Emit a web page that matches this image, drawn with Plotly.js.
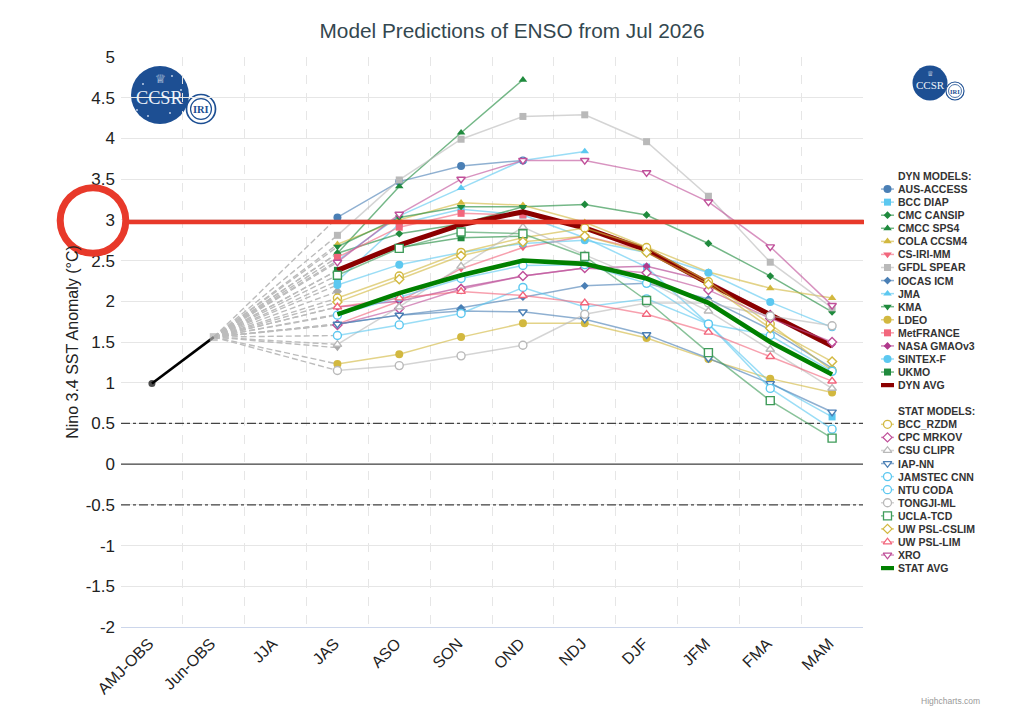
<!DOCTYPE html>
<html><head><meta charset="utf-8">
<script src="https://cdn.plot.ly/plotly-3.0.1.min.js"></script>
<style>html,body{margin:0;padding:0;background:#fff}#c{width:1024px;height:720px}</style></head>
<body><div id="c"></div>
<script>
const categories=["AMJ-OBS","Jun-OBS","JJA","JAS","ASO","SON","OND","NDJ","DJF","JFM","FMA","MAM"];
const yTicks=[-2,-1.5,-1,-0.5,0,0.5,1,1.5,2,2.5,3,3.5,4,4.5,5];
const yLabels=["-2","-1.5","-1","-0.5","0","0.5","1","1.5","2","2.5","3","3.5","4","4.5","5"];
const obsValues=[0.99,1.56];
// forecast values, JAS..MAM
const ausAccess=[3.03,3.47,3.66,3.73];
const bccDiap=[2.25,2.95,3.13,3.06,2.78,2.42,1.72,1.0,0.58];
const cmcCansip=[2.59,2.83,2.95,3.16,3.19,3.06,2.71,2.31,1.87];
const cmccSps4=[2.59,3.41,4.07,4.72];
const colaCcsm4=[2.7,3.0,3.21,3.18,2.97,2.67,2.36,2.16,2.04];
const csIriMm=[1.72,2.0,2.4,2.66,2.8,2.62];
const gfdlSpear=[2.81,3.49,3.99,4.27,4.29,3.96,3.29,2.48,1.92];
const iocasIcm=[1.72,1.83,1.92,2.05,2.19,2.22,2.03,1.65,1.18];
const jma=[2.5,3.05,3.39,3.73,3.84];
const kma=[2.67,3.03,3.16,3.16];
const ldeo=[1.23,1.35,1.56,1.73,1.73,1.55,1.29,1.05,0.88];
const metFrance=[2.54,2.91,3.08,3.06];
const nasaGmao=[1.93,2.0,2.17,2.31,2.41,2.43,2.25,1.85,1.47];
const sintexF=[2.2,2.45,2.6,2.71,2.75,2.6,2.35,1.99,1.68];
const ukmo=[2.38,2.66,2.78,2.8];
const dynAvg=[2.38,2.69,2.94,3.1,2.9,2.63,2.22,1.83,1.45];
const bccRzdm=[2.04,2.31,2.6,2.78,2.9,2.66,2.24,1.72,1.15];
const cpcMrkov=[1.71,1.91,2.15,2.31,2.41,2.35,2.14,1.79,1.5];
const csuClipr=[1.47,1.93,2.43,2.91,2.57,2.25,1.88,1.41,0.93];
const iapNn=[1.72,1.83,1.88,1.87,1.78,1.59,1.3,0.99,0.64];
const jamstecCnn=[1.58,1.71,1.85,2.17,1.93,2.03,1.72,0.93,0.43];
const ntuCoda=[1.83,2.05,2.28,2.44,2.45,2.22,1.72,1.58,1.14];
const tongjiMl=[1.15,1.21,1.33,1.46,1.84,1.98,1.98,1.82,1.7];
const uclaTcd=[2.32,2.65,2.85,2.83,2.55,2.01,1.37,0.78,0.32];
const uwCslim=[1.99,2.27,2.56,2.73,2.8,2.6,2.21,1.67,1.26];
const uwLim=[1.93,2.04,2.12,2.07,1.98,1.84,1.62,1.32,1.02];
const xro=[2.48,3.07,3.5,3.73,3.73,3.58,3.22,2.67,1.95];
const statAvg=[1.84,2.1,2.32,2.5,2.46,2.28,1.98,1.5,1.1];
const extraJas=[2.12,1.43];

const BLUE='#4a7fb5',CY='#5cc8f0',GR='#1f8a3d',GD='#d2b83f',PK='#f2667c',GY='#b9b9b9',MG='#b0398c',MG2='#c0509a';
const dynModels=[
["AUS-ACCESS",ausAccess,BLUE,'circle'],["BCC DIAP",bccDiap,CY,'square'],["CMC CANSIP",cmcCansip,GR,'diamond'],
["CMCC SPS4",cmccSps4,GR,'triangle-up'],["COLA CCSM4",colaCcsm4,GD,'triangle-up'],["CS-IRI-MM",csIriMm,PK,'triangle-down'],
["GFDL SPEAR",gfdlSpear,GY,'square'],["IOCAS ICM",iocasIcm,BLUE,'diamond'],["JMA",jma,CY,'triangle-up'],
["KMA",kma,GR,'triangle-down'],["LDEO",ldeo,GD,'circle'],["MetFRANCE",metFrance,PK,'square'],
["NASA GMAOv3",nasaGmao,MG,'diamond'],["SINTEX-F",sintexF,CY,'circle'],["UKMO",ukmo,GR,'square']];
const statModels=[
["BCC_RZDM",bccRzdm,GD,'circle'],["CPC MRKOV",cpcMrkov,MG2,'diamond'],["CSU CLIPR",csuClipr,GY,'triangle-up'],
["IAP-NN",iapNn,BLUE,'triangle-down'],["JAMSTEC CNN",jamstecCnn,CY,'circle'],["NTU CODA",ntuCoda,CY,'circle'],
["TONGJI-ML",tongjiMl,GY,'circle'],["UCLA-TCD",uclaTcd,'#3f9c5a','square'],["UW PSL-CSLIM",uwCslim,GD,'diamond'],
["UW PSL-LIM",uwLim,PK,'triangle-up'],["XRO",xro,MG2,'triangle-down']];

const W=1024,H=720;
const fx=p=>p/W, fy=p=>1-p/H;
function hexA(h,a){const n=parseInt(h.slice(1),16);return `rgba(${n>>16},${(n>>8)&255},${n&255},${a})`;}
const xs=v=>v.map((_,i)=>i+3);
function mSize(s,filled){return s==='diamond'?(filled?6:7):(s==='triangle-up'||s==='triangle-down'?7.5:(s==='square'?(filled?7:8):8));}
const traces=[];
// reference lines
[[0.5,'dashdot',1.2,'#444'],[-0.5,'dashdot',1.2,'#444'],[0,'solid',1.4,'#444']].forEach(r=>{
 traces.push({x:[-0.5,11.5],y:[r[0],r[0]],mode:'lines',line:{color:r[3],width:r[2],dash:r[1]},showlegend:false,hoverinfo:'skip'});
});
// dashed connectors from last observed month
const allModels=dynModels.concat(statModels);
const ends=allModels.map(m=>m[1][0]).concat([dynAvg[0],statAvg[0]],extraJas);
ends.forEach(e=>traces.push({x:[1,3],y:[obsValues[1],e],mode:'lines',line:{color:'#bcbcbc',width:1.4,dash:'6px,3px'},showlegend:false,hoverinfo:'skip'}));
extraJas.forEach((e,i)=>traces.push({x:[3],y:[e],mode:'markers',marker:{color:'#aaa',size:7,symbol:i?'triangle-down':'diamond',line:{width:0}},hoverinfo:'skip'}));
// observed
traces.push({x:[0,1],y:obsValues,mode:'lines+markers',line:{color:'#000',width:2.6},marker:{color:['#000','#b0b0b0'],size:[7,8],symbol:['circle','square'],line:{width:0}},hoverinfo:'skip'});

function modelTrace(m,filled){
 return {x:xs(m[1]),y:m[1],mode:'lines+markers',line:{color:hexA(m[2],0.62),width:1.5},
  marker:{symbol:m[3],size:mSize(m[3],filled),color:filled?m[2]:'#fff',line:{color:m[2],width:filled?0:1.4}},hoverinfo:'skip'};
}
dynModels.forEach(m=>traces.push(modelTrace(m,true)));
traces.push({x:xs(dynAvg),y:dynAvg,mode:'lines',line:{color:'#8b0000',width:5},hoverinfo:'skip'});
statModels.forEach(m=>traces.push(modelTrace(m,false)));
traces.push({x:xs(statAvg),y:statAvg,mode:'lines',line:{color:'#008000',width:4.6},hoverinfo:'skip'});

// legend drawn on a hidden overlay axis pair, one row per entry
const annotations=[];
function legendText(row,t){annotations.push({xref:'x2',yref:'y2',x:2,y:row,text:t,showarrow:false,xanchor:'left',yanchor:'middle',xshift:2,
  font:{family:'Liberation Sans, Arial, sans-serif',size:10.5,color:'#333',weight:700}});}
function legendSample(row,m,filled){
 traces.push({xaxis:'x2',yaxis:'y2',x:[0,1,2],y:[row,row,row],mode:'lines+markers',line:{color:hexA(m[2],0.62),width:1.5},
  marker:{symbol:m[3],size:mSize(m[3],filled),color:filled?m[2]:'#fff',opacity:[0,1,0],line:{color:m[2],width:filled?0:1.3}},hoverinfo:'skip'});
 legendText(row,m[0]);
}
let row=0; legendText(row++,"DYN MODELS:");
dynModels.forEach(m=>legendSample(row++,m,true));
traces.push({xaxis:'x2',yaxis:'y2',x:[0,2],y:[row,row],mode:'lines',line:{color:'#8b0000',width:4.2},hoverinfo:'skip'});legendText(row++,"DYN AVG");
row++; legendText(row++,"STAT MODELS:");
statModels.forEach(m=>legendSample(row++,m,false));
traces.push({xaxis:'x2',yaxis:'y2',x:[0,2],y:[row,row],mode:'lines',line:{color:'#008000',width:4.2},hoverinfo:'skip'});legendText(row++,"STAT AVG");

// page furniture: logos and the red highlight
const shapes=[];
function circ(cx,cy,r,fill,lc,lw,layer){shapes.push({type:'circle',xref:'paper',yref:'paper',x0:fx(cx-r),x1:fx(cx+r),y0:fy(cy+r),y1:fy(cy-r),
  fillcolor:fill,line:{color:lc||'rgba(0,0,0,0)',width:lw||0},layer:layer||'below'});}
function note(x,y,t,size,color,family,weight){annotations.push({xref:'paper',yref:'paper',x:fx(x),y:fy(y),text:t,showarrow:false,xanchor:'center',yanchor:'middle',
  font:{family:family||'Liberation Serif, serif',size:size,color:color,weight:weight||400}});}
const LB='#1d4f93';
function logo(cx,cy,r,ix,iy,ir,k){
 circ(cx,cy,r,LB);
 circ(ix,iy,ir,'#fff',LB,1.4*k+0.3);
 circ(ix,iy,ir*0.72,'#fff',LB,1*k+0.2);
 note(cx,cy-r*0.54,'♕',r*0.42,'#e6edf7','DejaVu Sans');
 note(cx,cy+r*0.12,'CCSR',r*0.63,'#eef3fa');
 note(ix,iy+0.3,'IRI',ir*0.72,LB,null,700);
}
logo(160,95,29,201,109,14.5,1);
logo(930,83,17.5,955,91,9,0.6);
[[143,84],[172,76],[148,116],[170,113],[181,90],[137,110]].forEach(s=>circ(s[0],s[1],0.9,'#cfdcf0',null,0));
shapes.push({type:'line',xref:'paper',yref:'paper',x0:fx(128),x1:fx(864),y0:fy(222),y1:fy(222),line:{color:'#e8392a',width:4.6},layer:'above'});
circ(93,220.5,32.8,'rgba(0,0,0,0)','#e8392a',7,'above');

annotations.push({xref:'paper',yref:'paper',x:fx(982),y:fy(701),text:'Highcharts.com',showarrow:false,xanchor:'right',yanchor:'middle',font:{family:'Liberation Sans, Arial, sans-serif',size:8.5,color:'#999'}});

const layout={
 width:W,height:H,margin:{l:0,r:0,t:0,b:0},paper_bgcolor:'#fff',plot_bgcolor:'rgba(0,0,0,0)',showlegend:false,hovermode:false,
 font:{family:'Liberation Sans, Arial, sans-serif'},
 title:{text:'Model Predictions of ENSO from Jul 2026',x:0.5,xanchor:'center',y:fy(31),yanchor:'middle',font:{size:20.8,color:'#33474f'}},
 xaxis:{domain:[fx(121),fx(863)],range:[-0.5,11.5],tickmode:'array',tickvals:categories.map((_,i)=>i),ticktext:categories,tickangle:-45,
  showgrid:false,zeroline:false,showline:true,linecolor:'#ccd6eb',linewidth:1,ticks:'',tickfont:{size:16,color:'#222'},ticklabelshift:-3,
  minor:{tick0:-0.5,dtick:1,showgrid:true,gridcolor:'#e6e6e6',griddash:'dash',gridwidth:1,ticks:''}},
 yaxis:{domain:[fy(627),fy(57)],range:[-2,5],tickmode:'array',tickvals:yTicks,ticktext:yLabels,showgrid:true,gridcolor:'#e6e6e6',gridwidth:1,zeroline:false,
  showline:false,ticks:'',tickfont:{size:17,color:'#222'},ticklabelstandoff:5,title:{text:'Nino 3.4 SST Anomaly (°C)',standoff:3,font:{size:16,color:'#222'}}},
 xaxis2:{domain:[fx(881),fx(894)],range:[0,2],visible:false,anchor:'y2',fixedrange:true},
 yaxis2:{domain:[0,1],range:[(H-176)/13.07,-176/13.07],visible:false,anchor:'x2',fixedrange:true},
 shapes:shapes,annotations:annotations
};
Plotly.newPlot('c',traces,layout,{displayModeBar:false,staticPlot:true});
</script></body></html>
